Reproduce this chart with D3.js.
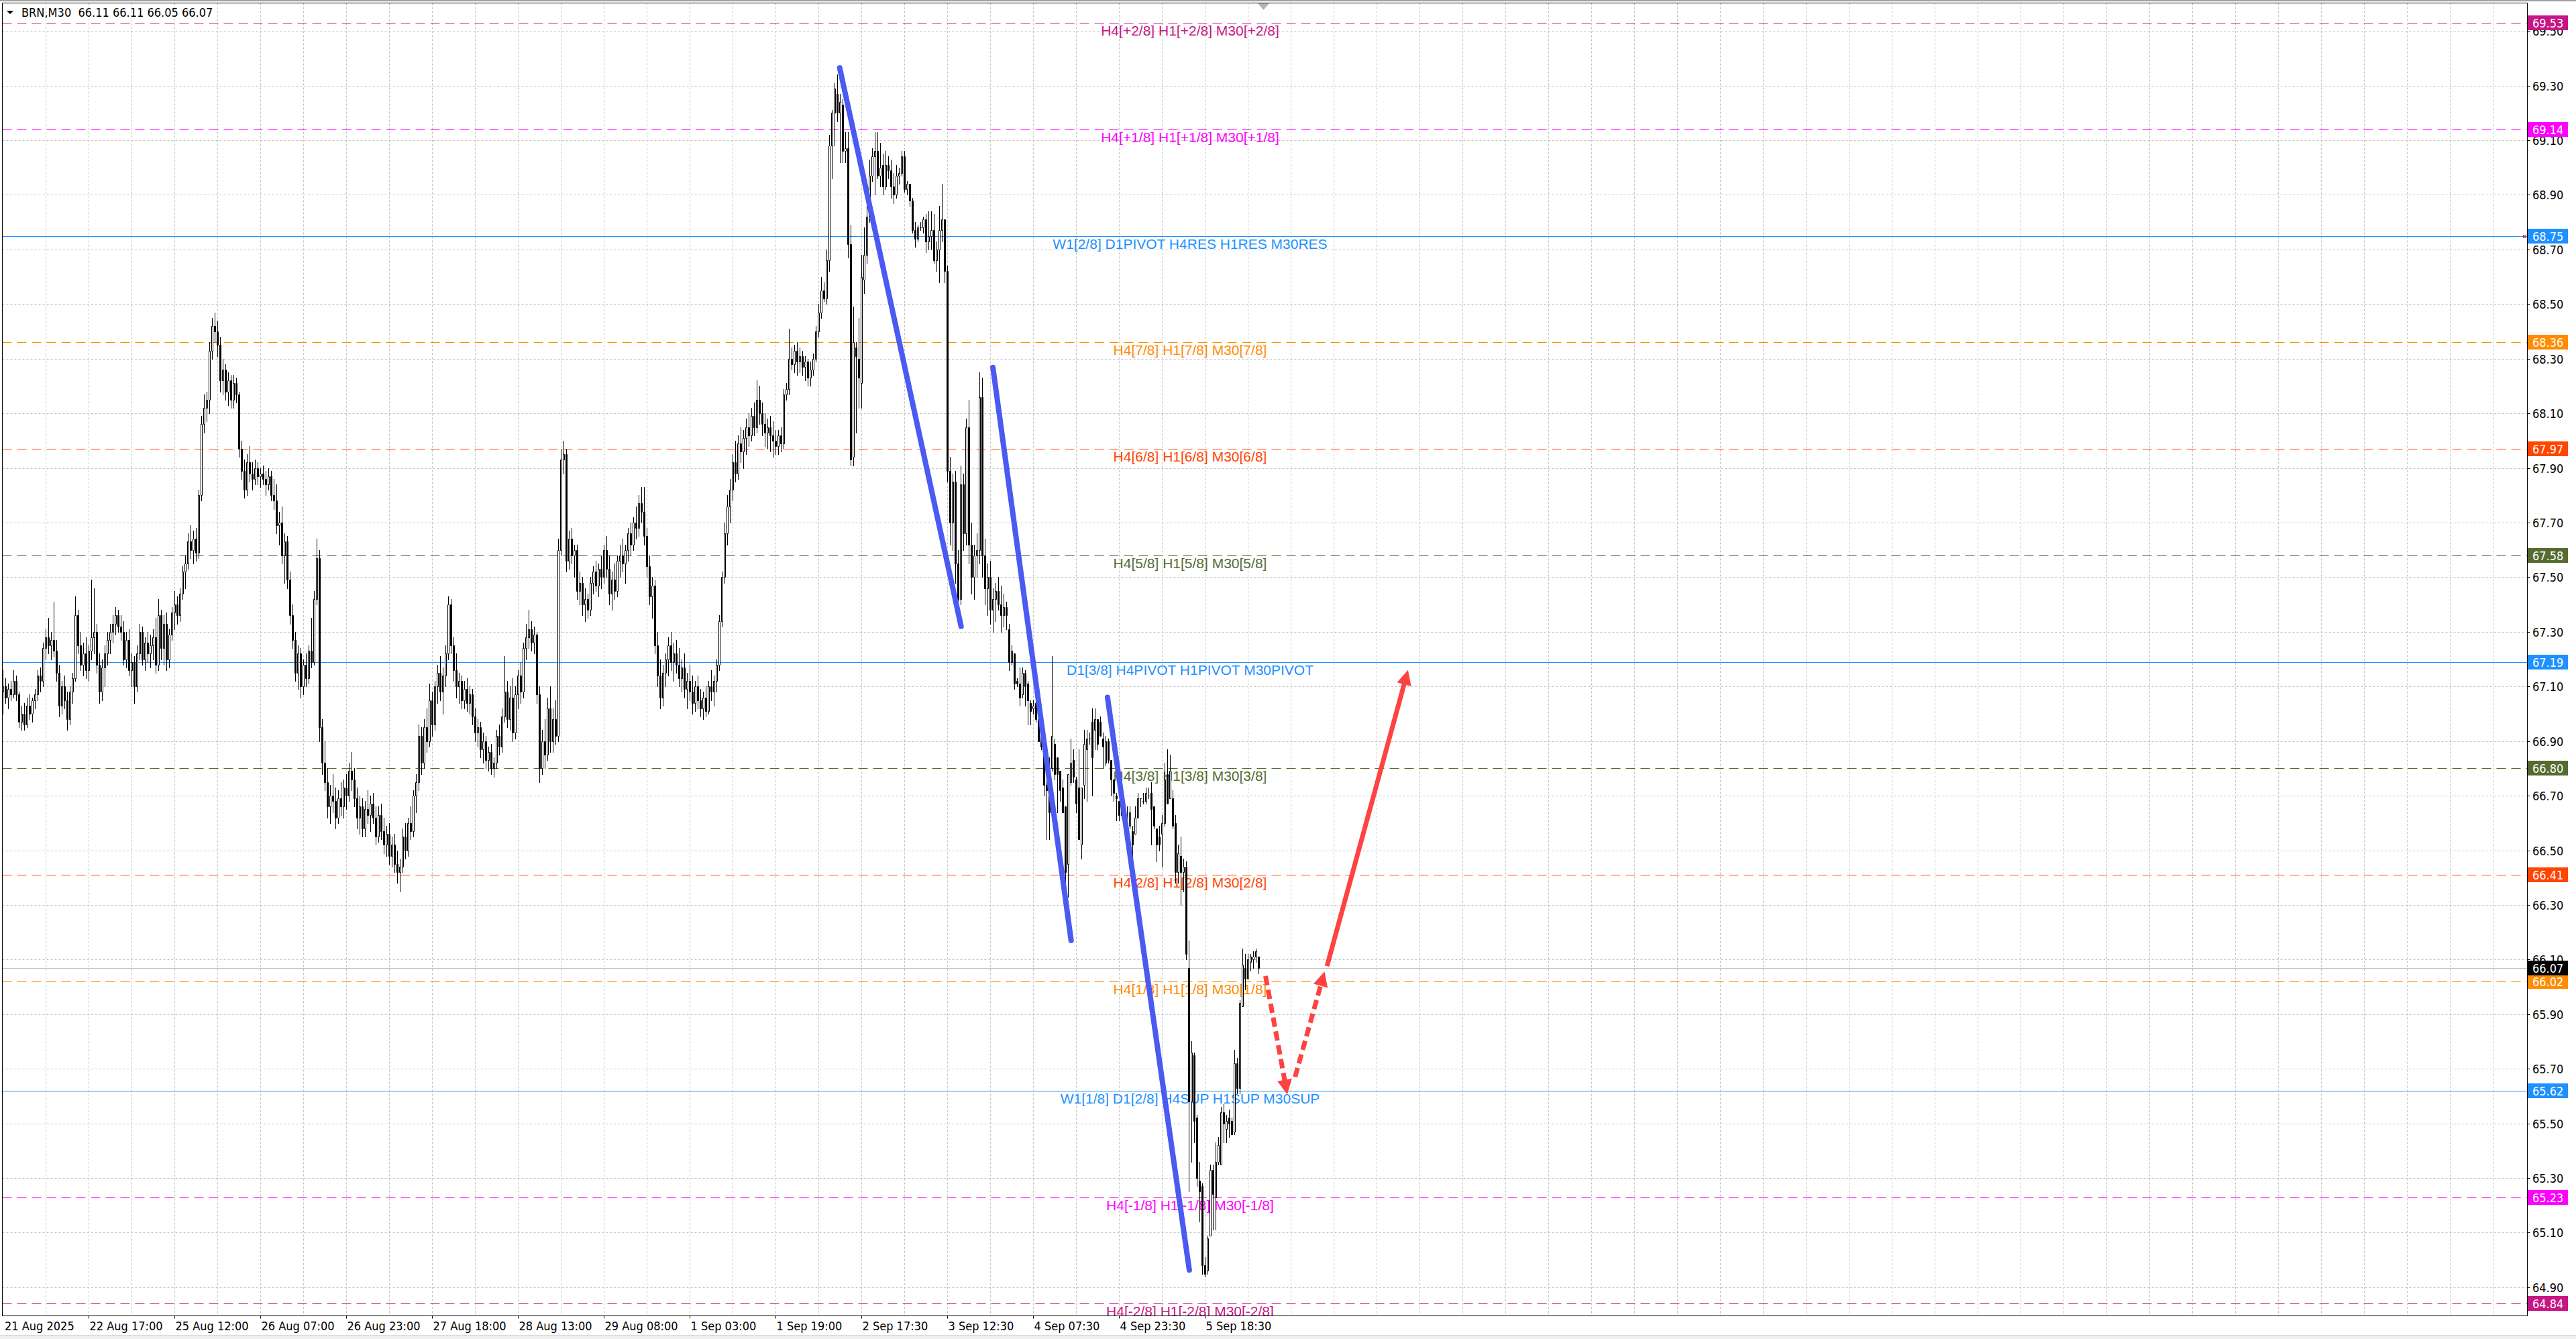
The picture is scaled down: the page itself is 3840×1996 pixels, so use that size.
<!DOCTYPE html>
<html><head><meta charset="utf-8">
<script src="https://cdn.jsdelivr.net/npm/d3@7"></script>
<style>html,body{margin:0;padding:0;background:#fff;overflow:hidden}</style>
</head><body>
<svg id="chart" width="3840" height="1996" xmlns="http://www.w3.org/2000/svg"></svg>
<script>
// ---------------- DATA ----------------
const symbolTitle = "BRN,M30  66.11 66.11 66.05 66.07";
const opens = [
67.08,67.10,67.06,67.09,67.07,67.12,67.07,66.97,67.00,66.96,
67.03,67.00,67.05,67.07,67.14,67.12,67.24,67.28,67.25,67.27,
67.23,67.15,67.03,67.10,67.05,66.98,67.08,67.13,67.36,67.25,
67.18,67.22,67.16,67.23,67.28,67.30,67.18,67.08,67.17,67.22,
67.27,67.30,67.33,67.36,67.32,67.30,67.20,67.27,67.16,67.19,
67.10,67.22,67.30,67.20,67.26,67.22,67.25,67.28,67.18,67.36,
67.24,67.33,67.20,67.29,67.37,67.40,67.36,67.44,67.52,67.55,
67.63,67.60,67.64,67.59,67.80,68.06,68.12,68.15,68.33,68.42,
68.40,68.35,68.22,68.26,68.18,68.22,68.15,68.21,68.17,67.97,
67.89,67.82,67.92,67.88,67.86,67.90,67.87,67.88,67.86,67.84,
67.87,67.80,67.78,67.69,67.70,67.58,67.63,67.49,67.36,67.27,
67.15,67.22,67.10,67.18,67.13,67.23,67.19,67.42,67.57,66.95,
66.82,66.75,66.66,66.70,66.68,66.62,66.69,66.66,66.73,66.70,
66.79,66.76,66.69,66.62,66.66,66.58,66.65,66.63,66.67,66.62,
66.55,66.63,66.57,66.52,66.56,66.48,66.52,66.45,66.42,66.44,
66.55,66.50,66.60,66.57,66.70,66.75,66.92,66.82,66.95,66.90,
67.05,66.96,67.10,67.15,67.08,67.14,67.22,67.40,67.25,67.16,
67.10,67.12,67.05,67.09,67.04,67.07,66.99,66.93,66.95,66.87,
66.90,66.83,66.86,66.80,66.82,66.92,66.88,66.99,67.08,66.98,
67.06,66.93,67.07,67.14,67.08,67.24,67.28,67.31,67.26,67.29,
67.07,66.80,66.90,66.85,67.02,66.90,66.98,66.92,67.60,67.93,
67.95,67.56,67.64,67.58,67.60,67.45,67.48,67.40,67.42,67.38,
67.48,67.52,67.47,67.53,67.50,67.60,67.53,67.44,67.49,67.45,
67.56,67.58,67.55,67.60,67.66,67.62,67.70,67.68,67.77,67.74,
67.65,67.54,67.43,67.47,67.25,67.14,67.06,67.15,67.20,67.25,
67.19,67.22,67.18,67.13,67.17,67.09,67.12,67.08,67.04,67.10,
67.05,67.02,67.06,67.01,67.10,67.08,67.12,67.18,67.34,67.50,
67.66,67.76,67.82,67.92,67.88,67.99,67.96,68.01,68.05,68.02,
68.09,68.05,68.15,68.10,68.06,68.03,68.05,68.02,68.00,67.98,
68.02,67.99,68.17,68.19,68.30,68.28,68.33,68.29,68.31,68.27,
68.29,68.23,68.26,68.30,68.40,68.47,68.55,68.52,68.66,69.08,
69.20,69.27,69.20,69.23,69.06,69.07,68.72,67.94,68.34,68.30,
68.21,68.59,68.68,68.81,68.97,69.04,69.06,68.97,69.01,68.93,
69.01,68.99,68.93,68.90,68.97,68.98,69.04,68.92,68.94,68.88,
68.77,68.74,68.78,68.78,68.81,68.73,68.75,68.77,68.66,68.70,
68.77,68.81,68.62,67.89,67.70,67.85,67.55,67.42,67.84,67.66,
68.05,67.62,67.50,67.58,67.60,68.16,67.58,67.46,67.50,67.38,
67.42,67.45,67.40,67.36,67.39,67.31,67.19,67.22,67.12,67.11,
67.07,67.15,67.11,67.04,67.02,67.04,66.98,66.94,66.88,66.74,
66.74,66.80,66.89,66.84,66.79,66.73,66.66,66.45,66.75,66.83,
66.76,66.73,66.52,66.74,66.87,66.91,66.97,66.94,66.98,66.97,
66.91,66.82,66.90,66.83,66.76,66.70,66.68,66.68,66.64,66.60,
66.59,66.57,66.56,66.62,66.69,66.68,66.68,66.70,66.71,66.66,
66.58,66.55,66.56,66.60,66.78,66.69,66.69,66.60,66.42,66.48,
66.42,66.44,66.07,65.58,65.75,65.52,65.29,65.27,64.98,64.96,
65.09,65.33,65.23,65.36,65.35,65.54,65.48,65.52,65.51,65.47,
65.72,65.63,65.93,66.07,66.03,66.09,66.10,66.11,66.11
];
const highs = [
67.16,67.13,67.11,67.12,67.16,67.14,67.08,67.03,67.04,67.06,
67.07,67.06,67.09,67.16,67.17,67.26,67.31,67.35,67.30,67.41,
67.27,67.18,67.12,67.14,67.08,67.10,67.15,67.43,67.38,67.30,
67.26,67.28,67.25,67.49,67.46,67.33,67.22,67.20,67.25,67.30,
67.33,67.36,67.39,67.38,67.36,67.34,67.30,67.31,67.22,67.21,
67.25,67.33,67.32,67.28,67.30,67.29,67.31,67.35,67.42,67.38,
67.36,67.37,67.31,67.39,67.45,67.43,67.46,67.54,67.58,67.66,
67.69,67.67,67.68,67.82,68.09,68.17,68.18,68.36,68.45,68.47,
68.44,68.38,68.30,68.28,68.25,68.24,68.24,68.23,68.18,68.00,
67.93,67.95,67.98,67.92,67.93,67.92,67.90,67.91,67.89,67.90,
67.89,67.86,67.84,67.74,67.76,67.66,67.65,67.52,67.40,67.30,
67.25,67.24,67.20,67.22,67.25,67.35,67.45,67.64,67.60,66.98,
66.90,66.80,66.74,66.78,66.73,66.72,66.75,66.76,66.78,66.82,
66.86,66.80,66.73,66.70,66.69,66.68,66.72,66.70,66.71,66.66,
66.66,66.67,66.62,66.59,66.60,66.55,66.56,66.50,66.47,66.58,
66.60,66.62,66.66,66.72,66.78,66.96,66.95,66.98,67.02,67.11,
67.08,67.12,67.18,67.21,67.17,67.25,67.43,67.42,67.28,67.22,
67.15,67.14,67.12,67.13,67.10,67.09,67.02,66.98,66.97,66.93,
66.92,66.88,66.89,66.84,66.94,66.96,67.02,67.21,67.12,67.10,
67.13,67.10,67.16,67.19,67.26,67.33,67.38,67.34,67.32,67.30,
67.10,66.94,66.98,67.06,67.10,67.02,67.05,67.64,67.97,68.00,
67.97,67.67,67.68,67.62,67.62,67.52,67.50,67.46,67.44,67.50,
67.54,67.56,67.55,67.58,67.62,67.65,67.58,67.52,67.55,67.58,
67.62,67.64,67.62,67.68,67.70,67.72,67.76,67.80,67.83,67.83,
67.68,67.58,67.50,67.49,67.30,67.20,67.18,67.22,67.28,67.30,
67.26,67.27,67.24,67.20,67.22,67.15,67.18,67.14,67.12,67.14,
67.09,67.08,67.10,67.12,67.16,67.14,67.20,67.36,67.52,67.70,
67.80,67.86,67.95,68.00,68.02,68.05,68.04,68.08,68.10,68.12,
68.14,68.22,68.20,68.14,68.10,68.08,68.09,68.07,68.04,68.04,
68.05,68.19,68.21,68.41,68.34,68.35,68.36,68.34,68.33,68.31,
68.30,68.29,68.32,68.42,68.50,68.60,68.58,68.70,69.12,69.21,
69.31,69.34,69.27,69.25,69.13,69.13,68.79,68.49,68.36,68.45,
68.68,68.78,68.94,69.03,69.07,69.13,69.13,69.09,69.05,69.06,
69.04,69.03,68.98,69.01,69.00,69.06,69.06,68.95,68.94,68.89,
68.80,68.79,68.80,68.82,68.83,68.84,68.84,68.83,68.73,68.86,
68.94,68.81,68.64,67.94,67.88,67.89,67.60,67.91,67.88,68.08,
68.15,67.70,67.62,67.66,68.25,68.23,67.64,67.55,67.56,67.46,
67.48,67.50,67.47,67.44,67.41,67.33,67.25,67.22,67.13,67.17,
67.17,67.16,67.12,67.05,67.05,67.05,66.99,66.95,66.89,66.84,
66.84,67.21,66.91,66.84,66.79,66.76,66.66,66.78,66.91,66.87,
66.77,66.87,66.73,66.94,66.94,66.93,67.02,67.02,66.98,66.99,
66.93,66.92,66.91,66.83,66.76,66.71,66.68,66.69,66.64,66.66,
66.66,66.59,66.66,66.71,66.69,66.71,66.73,66.73,66.75,66.66,
66.58,66.59,66.63,66.82,66.87,66.85,66.72,66.63,66.52,66.55,
66.47,66.46,66.17,65.80,65.76,65.53,65.36,65.28,65.01,65.09,
65.35,65.35,65.43,65.45,65.56,65.57,65.53,65.55,65.52,65.77,
65.74,65.95,66.14,66.12,66.12,66.12,66.13,66.14,66.11
];
const lows = [
67.00,67.04,67.02,67.05,67.06,67.05,66.95,66.94,66.94,66.95,
66.98,66.97,67.02,67.05,67.08,67.10,67.20,67.22,67.20,67.21,
67.12,66.99,67.00,67.02,66.94,66.96,67.04,67.12,67.22,67.16,
67.14,67.13,67.12,67.20,67.22,67.15,67.04,67.05,67.10,67.18,
67.22,67.26,67.29,67.30,67.27,67.18,67.17,67.14,67.10,67.04,
67.08,67.20,67.18,67.16,67.19,67.17,67.20,67.15,67.16,67.20,
67.18,67.16,67.17,67.27,67.31,67.33,67.34,67.42,67.46,67.53,
67.57,67.55,67.56,67.57,67.78,68.03,68.07,68.10,68.30,68.36,
68.31,68.18,68.17,68.15,68.13,68.12,68.12,68.14,67.94,67.86,
67.79,67.80,67.85,67.82,67.84,67.84,67.83,67.84,67.80,67.82,
67.78,67.75,67.66,67.62,67.55,67.48,67.46,67.33,67.24,67.12,
67.09,67.06,67.07,67.10,67.11,67.17,67.18,67.40,66.90,66.78,
66.72,66.62,66.60,66.64,66.58,66.60,66.63,66.62,66.65,66.68,
66.72,66.66,66.58,66.56,66.55,66.55,66.60,66.57,66.60,66.52,
66.53,66.54,66.49,66.48,66.45,66.44,66.42,66.38,66.35,66.42,
66.47,66.48,66.54,66.55,66.64,66.72,66.78,66.80,66.86,66.88,
66.92,66.94,67.04,67.05,67.00,67.10,67.20,67.22,67.12,67.06,
67.04,67.02,67.02,67.01,67.00,66.96,66.90,66.88,66.84,66.82,
66.80,66.79,66.78,66.77,66.80,66.85,66.86,66.97,66.95,66.94,
66.90,66.91,67.02,67.04,67.06,67.20,67.24,67.23,67.22,67.04,
66.75,66.78,66.80,66.83,66.86,66.86,66.89,66.90,67.58,67.88,
67.52,67.53,67.55,67.50,67.42,67.40,67.36,67.34,67.35,67.36,
67.44,67.45,67.43,67.46,67.48,67.50,67.40,67.38,67.42,67.43,
67.50,67.52,67.48,67.56,67.58,67.60,67.64,67.65,67.70,67.62,
67.50,67.40,67.35,67.22,67.10,67.02,67.03,67.10,67.14,67.16,
67.12,67.15,67.10,67.08,67.06,67.02,67.05,67.00,67.01,67.02,
66.99,66.98,66.99,67.00,67.05,67.03,67.08,67.16,67.32,67.48,
67.62,67.70,67.78,67.85,67.86,67.92,67.90,67.95,67.98,68.00,
68.02,68.03,68.06,68.02,67.98,67.97,67.96,67.94,67.95,67.95,
67.96,67.97,68.15,68.17,68.26,68.25,68.24,68.25,68.24,68.22,
68.20,68.20,68.24,68.29,68.38,68.45,68.51,68.50,68.62,68.96,
69.08,69.17,69.02,69.02,69.02,68.67,67.91,67.91,68.03,68.12,
68.12,68.54,68.65,68.80,68.95,68.90,68.96,68.93,68.90,68.92,
68.96,68.89,68.87,68.89,68.94,68.97,68.91,68.90,68.86,68.76,
68.71,68.73,68.77,68.76,68.69,68.70,68.70,68.65,68.62,68.58,
68.73,68.58,67.85,67.62,67.60,67.48,67.36,67.40,67.60,67.62,
67.55,67.44,67.42,67.50,67.55,67.50,67.40,67.36,67.33,67.30,
67.34,67.38,67.30,67.32,67.31,67.16,67.18,67.09,67.10,67.03,
67.06,67.03,66.96,66.96,67.00,66.97,66.90,66.87,66.70,66.54,
66.54,66.79,66.76,66.64,66.68,66.64,66.30,66.33,66.74,66.75,
66.64,66.54,66.47,66.69,66.68,66.89,66.70,66.87,66.87,66.92,
66.80,66.81,66.82,66.70,66.68,66.61,66.61,66.62,66.59,66.50,
66.58,66.48,66.56,66.62,66.66,66.67,66.67,66.69,66.52,66.58,
66.46,66.50,66.44,66.59,66.67,66.69,66.58,66.38,66.38,66.30,
66.35,66.10,65.25,65.36,65.43,65.27,65.14,64.95,64.94,64.95,
65.09,65.11,65.11,65.35,65.35,65.43,65.43,65.45,65.46,65.46,
65.61,65.61,65.93,65.99,66.03,66.06,66.07,66.09,66.05
];
const closes = [
67.10,67.06,67.09,67.07,67.12,67.07,66.97,67.00,66.96,67.03,
67.00,67.05,67.07,67.14,67.12,67.24,67.28,67.25,67.27,67.23,
67.15,67.03,67.10,67.05,66.98,67.08,67.13,67.36,67.25,67.18,
67.22,67.16,67.23,67.28,67.30,67.18,67.08,67.17,67.22,67.27,
67.30,67.33,67.36,67.32,67.30,67.20,67.27,67.16,67.19,67.10,
67.22,67.30,67.20,67.26,67.22,67.25,67.28,67.18,67.36,67.24,
67.33,67.20,67.29,67.37,67.40,67.36,67.44,67.52,67.55,67.63,
67.60,67.64,67.59,67.80,68.06,68.12,68.15,68.33,68.42,68.40,
68.35,68.22,68.26,68.18,68.22,68.15,68.21,68.17,67.97,67.89,
67.82,67.92,67.88,67.86,67.90,67.87,67.88,67.86,67.84,67.87,
67.80,67.78,67.69,67.70,67.58,67.63,67.49,67.36,67.27,67.15,
67.22,67.10,67.18,67.13,67.23,67.19,67.42,67.57,66.95,66.82,
66.75,66.66,66.70,66.68,66.62,66.69,66.66,66.73,66.70,66.79,
66.76,66.69,66.62,66.66,66.58,66.65,66.63,66.67,66.62,66.55,
66.63,66.57,66.52,66.56,66.48,66.52,66.45,66.42,66.44,66.55,
66.50,66.60,66.57,66.70,66.75,66.92,66.82,66.95,66.90,67.05,
66.96,67.10,67.15,67.08,67.14,67.22,67.40,67.25,67.16,67.10,
67.12,67.05,67.09,67.04,67.07,66.99,66.93,66.95,66.87,66.90,
66.83,66.86,66.80,66.82,66.92,66.88,66.99,67.08,66.98,67.06,
66.93,67.07,67.14,67.08,67.24,67.28,67.31,67.26,67.29,67.07,
66.80,66.90,66.85,67.02,66.90,66.98,66.92,67.60,67.93,67.95,
67.56,67.64,67.58,67.60,67.45,67.48,67.40,67.42,67.38,67.48,
67.52,67.47,67.53,67.50,67.60,67.53,67.44,67.49,67.45,67.56,
67.58,67.55,67.60,67.66,67.62,67.70,67.68,67.77,67.74,67.65,
67.54,67.43,67.47,67.25,67.14,67.06,67.15,67.20,67.25,67.19,
67.22,67.18,67.13,67.17,67.09,67.12,67.08,67.04,67.10,67.05,
67.02,67.06,67.01,67.10,67.08,67.12,67.18,67.34,67.50,67.66,
67.76,67.82,67.92,67.88,67.99,67.96,68.01,68.05,68.02,68.09,
68.05,68.15,68.10,68.06,68.03,68.05,68.02,68.00,67.98,68.02,
67.99,68.17,68.19,68.30,68.28,68.33,68.29,68.31,68.27,68.29,
68.23,68.26,68.30,68.40,68.47,68.55,68.52,68.66,69.08,69.20,
69.29,69.20,69.24,69.06,69.07,68.72,67.93,68.36,68.31,68.23,
68.60,68.68,68.82,68.97,69.04,69.06,68.97,69.00,68.93,69.01,
68.99,68.93,68.90,68.97,68.98,69.04,68.92,68.94,68.88,68.77,
68.74,68.78,68.78,68.81,68.73,68.75,68.77,68.66,68.70,68.77,
68.81,68.62,67.89,67.70,67.85,67.55,67.42,67.84,67.66,68.05,
67.62,67.50,67.58,67.60,68.16,67.58,67.46,67.50,67.38,67.42,
67.45,67.40,67.36,67.39,67.36,67.19,67.23,67.11,67.11,67.06,
67.15,67.10,67.05,67.01,67.03,66.98,66.90,66.88,66.74,66.72,
66.64,66.92,66.78,66.78,66.72,66.64,66.42,66.78,66.82,66.77,
66.67,66.54,66.73,66.89,66.91,66.91,66.84,66.98,66.89,66.92,
66.88,66.90,66.83,66.76,66.71,66.69,66.63,66.63,66.60,66.54,
66.64,66.52,66.62,66.69,66.69,66.68,66.71,66.70,66.65,66.59,
66.52,66.52,66.60,66.76,66.67,66.79,66.59,66.42,66.49,66.42,
66.44,66.12,65.58,65.76,65.51,65.30,65.25,64.98,64.95,65.08,
65.33,65.24,65.36,65.42,65.54,65.50,65.51,65.50,65.46,65.72,
65.63,65.94,66.08,66.03,66.10,66.11,66.11,66.13,66.07
];
const dateLabels = ["21 Aug 2025","22 Aug 17:00","25 Aug 12:00","26 Aug 07:00","26 Aug 23:00","27 Aug 18:00","28 Aug 13:00","29 Aug 08:00","1 Sep 03:00","1 Sep 19:00","2 Sep 17:30","3 Sep 12:30","4 Sep 07:30","4 Sep 23:30","5 Sep 18:30"];
const dateLabelBars = [0,32,64,96,128,160,192,224,256,288,320,352,384,416,448];
const priceTicks = [64.90,65.10,65.30,65.50,65.70,65.90,66.10,66.30,66.50,66.70,66.90,67.10,67.30,67.50,67.70,67.90,68.10,68.30,68.50,68.70,68.90,69.10,69.30,69.50];
const levelPrices = [69.53,69.14,68.75,68.36,67.97,67.58,67.19,66.80,66.41,66.02,65.62,65.23,64.84];
const levelTexts = ["H4[+2/8] H1[+2/8] M30[+2/8]","H4[+1/8] H1[+1/8] M30[+1/8]","W1[2/8] D1PIVOT H4RES H1RES M30RES","H4[7/8] H1[7/8] M30[7/8]","H4[6/8] H1[6/8] M30[6/8]","H4[5/8] H1[5/8] M30[5/8]","D1[3/8] H4PIVOT H1PIVOT M30PIVOT","H4[3/8] H1[3/8] M30[3/8]","H4[2/8] H1[2/8] M30[2/8]","H4[1/8] H1[1/8] M30[1/8]","W1[1/8] D1[2/8] H4SUP H1SUP M30SUP","H4[-1/8] H1[-1/8] M30[-1/8]","H4[-2/8] H1[-2/8] M30[-2/8]"];
const currentPrice = 66.07;
// drawn objects, in (bar index, price)
const blueTrends = [[311.8,69.365,357.05,67.32],[368.9,68.268,398.05,66.17],[411.6,67.06,442.1,64.963]];
const redDashedDown = [470.5,66.04,478.6,65.606];
const redDashedUp = [481.5,65.67,492.5,66.056];
const redSolidUp = [493.4,66.076,523.6,67.16];

// ---------------- STYLES ----------------
const levelColors = ["#C71585","#FF00FF","#1E90FF","#FF8C00","#FF4500","#556B2F","#1E90FF","#556B2F","#FF4500","#FF8C00","#1E90FF","#FF00FF","#C71585"];
const levelDashed = [true,true,false,true,true,true,false,true,true,true,false,true,true];
const axisFont = '"DejaVu Sans Condensed","DejaVu Sans",sans-serif';
const labelFont = '"Liberation Sans",Arial,sans-serif';

// ---------------- DRAW ----------------
const svg = d3.select("#chart");
const PL = 3.5, PT = 4.5, PR = 3767.5, PB = 1961.5;
const x = d3.scaleLinear().domain([0, 468]).range([4.5, 4.5 + 4 * 468]);
const y = d3.scaleLinear().domain([64.84, 69.53]).range([1943.3, 34]);
const yc = p => Math.round(y(p)) + 0.5;

svg.append("rect").attr("width", 3840).attr("height", 1996).attr("fill", "#fff");
svg.append("rect").attr("x",0).attr("y",0).attr("width",3840).attr("height",2).attr("fill","#a0a0a0");
svg.append("rect").attr("x",0).attr("y",1990).attr("width",3840).attr("height",6).attr("fill","#f0f0f0");
svg.append("line").attr("x1",0).attr("x2",3840).attr("y1",1990.5).attr("y2",1990.5).attr("stroke","#d8d8d8");

const defs = svg.append("defs");
defs.append("clipPath").attr("id","plotclip").append("rect")
  .attr("x",PL).attr("y",PT).attr("width",PR-PL).attr("height",PB-PT);

const plot = svg.append("g").attr("clip-path","url(#plotclip)");

// grid
const gridG = plot.append("g").attr("stroke","#c0c0c0").attr("stroke-width",1).attr("stroke-dasharray","3,3");
priceTicks.forEach(p => {
  gridG.append("line").attr("x1",PL).attr("x2",PR).attr("y1",yc(p)).attr("y2",yc(p));
});
const vBars = d3.range(16, 1000, 16).filter(b => x(b) < PR);
vBars.forEach(b => {
  gridG.append("line").attr("x1",x(b)).attr("x2",x(b)).attr("y1",PT).attr("y2",PB);
});

// level lines
levelPrices.forEach((p, k) => {
  plot.append("line").attr("x1",PL).attr("x2",PR).attr("y1",yc(p)).attr("y2",yc(p))
    .attr("stroke",levelColors[k]).attr("stroke-width",1)
    .attr("stroke-dasharray", levelDashed[k] ? "14,8" : null);
});
// current price line
plot.append("line").attr("x1",PL).attr("x2",PR).attr("y1",yc(currentPrice)).attr("y2",yc(currentPrice))
  .attr("stroke","#c0c0c0").attr("stroke-width",1);

// level texts
levelPrices.forEach((p, k) => {
  plot.append("text").attr("x",1774).attr("y",Math.round(y(p)) + 19)
    .attr("text-anchor","middle").attr("font-family",labelFont).attr("font-size",21)
    .attr("fill",levelColors[k]).text(levelTexts[k]);
});

// candles
const candG = plot.append("g");
closes.forEach((c, i) => {
  const o = opens[i];
  const hi = Math.max(highs[i], o, c), lo = Math.min(lows[i], o, c);
  const cx = x(i);
  candG.append("line").attr("x1",cx).attr("x2",cx)
    .attr("y1",Math.round(y(hi))).attr("y2",Math.round(y(lo))+1)
    .attr("stroke","#000").attr("stroke-width",1);
  const t = Math.round(y(Math.max(o,c))), b = Math.round(y(Math.min(o,c)));
  const bull = c >= o;
  candG.append("path")
    .attr("d",`M${cx-1},${t+0.5}h2v${b-t}h-2Z`)
    .attr("fill", bull ? "#fff" : "#000").attr("stroke","#000").attr("stroke-width",1);
});

// blue trend lines
blueTrends.forEach(t => {
  plot.append("line").attr("x1",x(t[0])).attr("y1",y(t[1])).attr("x2",x(t[2])).attr("y2",y(t[3]))
    .attr("stroke","#4a5af2").attr("stroke-width",8).attr("stroke-linecap","round");
});

// red arrows
function arrow(seg, dashed) {
  const x1 = x(seg[0]), y1 = y(seg[1]), x2 = x(seg[2]), y2 = y(seg[3]);
  const dx = x2 - x1, dy = y2 - y1, len = Math.hypot(dx, dy);
  const ux = dx/len, uy = dy/len, hl = 22, hw = 11;
  const bx = x2 - ux*hl, by = y2 - uy*hl;
  plot.append("line").attr("x1",x1).attr("y1",y1).attr("x2",bx+ux*2).attr("y2",by+uy*2)
    .attr("stroke","#ff4242").attr("stroke-width",7)
    .attr("stroke-dasharray", dashed ? "14,7" : null);
  plot.append("path")
    .attr("d",`M${x2},${y2}L${bx - uy*hw},${by + ux*hw}L${bx + uy*hw},${by - ux*hw}Z`)
    .attr("fill","#ff4242");
}
arrow(redDashedDown, true);
arrow(redDashedUp, true);
arrow(redSolidUp, false);

// shift marker
svg.append("path").attr("d","M1875,5L1892,5L1883.5,15Z").attr("fill","#b4b4b4");

// frame
svg.append("rect").attr("x",PL).attr("y",PT).attr("width",PR-PL).attr("height",PB-PT)
  .attr("fill","none").attr("stroke","#000").attr("stroke-width",1);

// right axis
const axG = svg.append("g").attr("font-family",axisFont).attr("font-size",18).attr("fill","#000");
priceTicks.forEach(p => {
  axG.append("line").attr("x1",PR).attr("x2",PR+4).attr("y1",yc(p)).attr("y2",yc(p)).attr("stroke","#000");
  axG.append("text").attr("x",3775).attr("y",Math.round(y(p))+7).text(p.toFixed(2));
});
// level boxes (drawn above tick labels)
const boxG = svg.append("g").attr("font-family",axisFont).attr("font-size",18);
const boxPrices = levelPrices.concat([currentPrice]);
const boxColors = levelColors.concat(["#000"]);
boxPrices.forEach((p, k) => {
  const yy = Math.round(y(p));
  boxG.append("rect").attr("x",3768).attr("y",yy-11).attr("width",60).attr("height",22).attr("fill",boxColors[k]);
  boxG.append("text").attr("x",3775).attr("y",yy+7).attr("fill","#fff").text(p.toFixed(2));
});
// small red marker on 68.75 line
svg.append("rect").attr("x",3761.5).attr("y",yc(68.75)-2).attr("width",4).attr("height",4)
  .attr("fill","none").attr("stroke","#ff0000");

// bottom axis
dateLabels.forEach((s, k) => {
  const bx = x(dateLabelBars[k]);
  if (k > 0) axG.append("line").attr("x1",bx).attr("x2",bx).attr("y1",PB).attr("y2",PB+4).attr("stroke","#000");
  axG.append("text").attr("x", k === 0 ? 7 : bx + 1).attr("y",1983).text(s);
});

// title
svg.append("path").attr("d","M10,16L20,16L15,21Z").attr("fill","#000");
svg.append("text").attr("x",32).attr("y",25).attr("font-family",axisFont).attr("font-size",18)
  .attr("fill","#000").attr("xml:space","preserve").style("white-space","pre").text(symbolTitle);
</script>
</body></html>
